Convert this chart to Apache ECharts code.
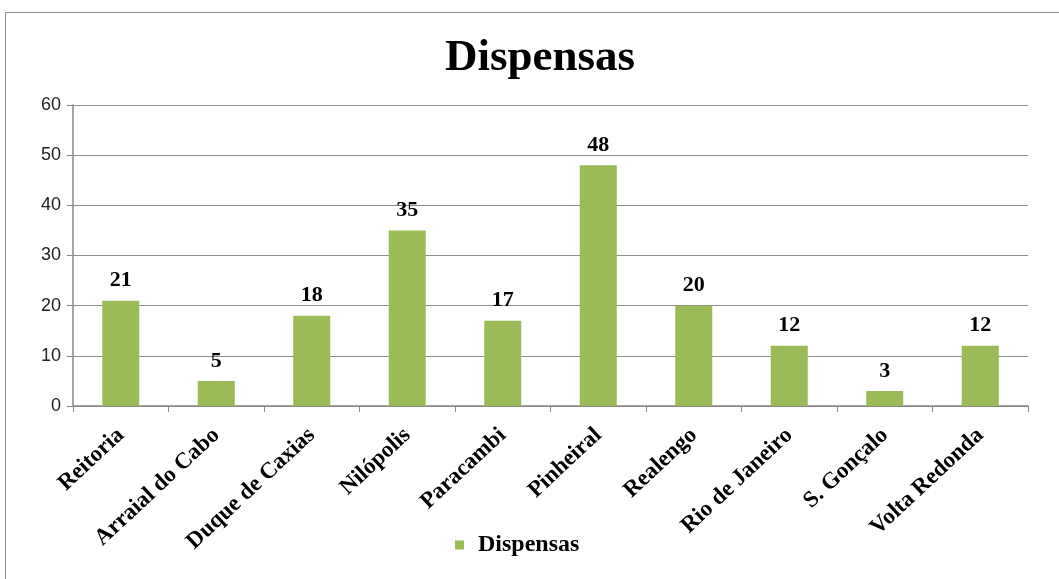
<!DOCTYPE html>
<html>
<head>
<meta charset="utf-8">
<script src="https://cdn.jsdelivr.net/npm/echarts@6/dist/echarts.min.js"></script>
<style>html,body{margin:0;padding:0;background:#fff}#c{width:1059px;height:579px}</style>
</head>
<body>
<div id="c"></div>
<script>
const categories = ["Reitoria","Arraial do Cabo","Duque de Caxias","Nilópolis","Paracambi","Pinheiral","Realengo","Rio de Janeiro","S. Gonçalo","Volta Redonda"];
const values = [21,5,18,35,17,48,20,12,3,12];
const seriesName = "Dispensas";
const titleText = "Dispensas";

const chart = echarts.init(document.getElementById('c'));
chart.setOption({
  animation: false,
  backgroundColor: '#fff',
  graphic: [{
    type: 'rect', shape: {x: 5.5, y: 12.5, width: 1070, height: 600},
    style: {fill: 'none', stroke: '#8c8c8c', lineWidth: 1}, silent: true, z: -1
  }],
  title: {
    text: titleText, left: 440, top: 31,
    textStyle: {fontFamily: 'Liberation Serif', fontWeight: 'bold', fontSize: 45, color: '#000'}
  },
  legend: {
    bottom: 17, left: 450, itemWidth: 9, itemHeight: 9, icon: 'rect',
    textStyle: {fontFamily: 'Liberation Serif', fontWeight: 'bold', fontSize: 24, color: '#000', padding: [0, 0, 0, 9]},
    data: [seriesName]
  },
  grid: {left: 73, right: 31, top: 105, bottom: 173, containLabel: false},
  xAxis: {
    type: 'category', data: categories, boundaryGap: true,
    axisLine: {lineStyle: {color: '#868686', width: 1.5}},
    axisTick: {show: true, length: 6, lineStyle: {color: '#868686'}, alignWithLabel: false},
    axisLabel: {rotate: 43, margin: 26, interval: 0, fontFamily: 'Liberation Serif', fontWeight: 'bold', fontSize: 23, color: '#000'}
  },
  yAxis: {
    type: 'value', min: 0, max: 60, interval: 10,
    axisLine: {show: true, lineStyle: {color: '#868686', width: 1.5}},
    axisTick: {show: true, length: 6, lineStyle: {color: '#868686'}},
    axisLabel: {margin: 12, fontFamily: 'Liberation Sans', fontSize: 18, color: '#222'},
    splitLine: {lineStyle: {color: '#8c8c8c', width: 1.2}}
  },
  series: [{
    name: seriesName, type: 'bar', data: values, barWidth: 37,
    itemStyle: {color: '#9BBB59'},
    label: {show: true, position: 'top', distance: 9, fontFamily: 'Liberation Serif', fontWeight: 'bold', fontSize: 22, color: '#000'}
  }]
});
</script>
</body>
</html>
